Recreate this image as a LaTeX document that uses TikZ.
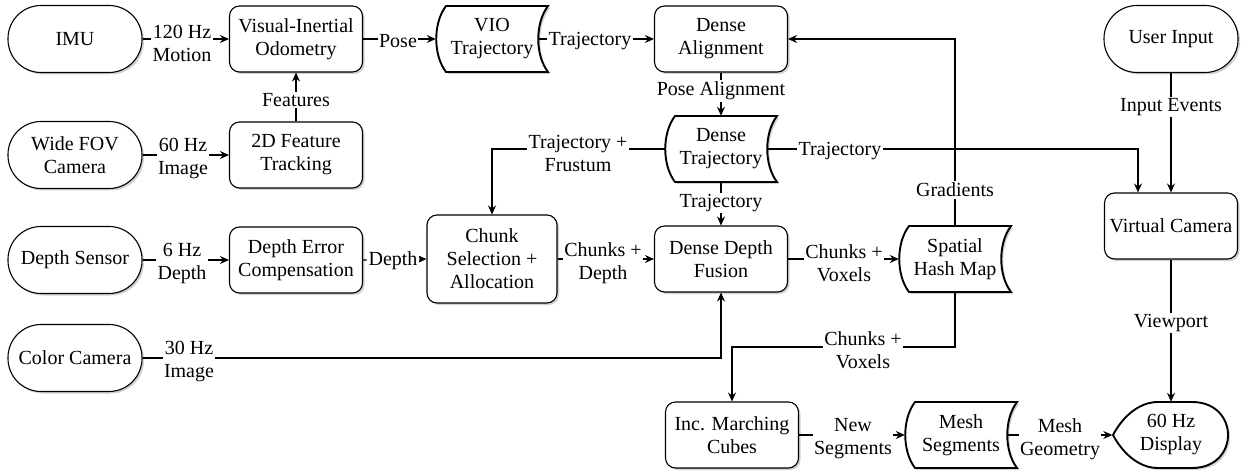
\documentclass[tikz,border=0pt]{standalone}
\usepackage{fontspec}
\setmainfont{Liberation Serif}
\usetikzlibrary{arrows.meta,shadows,calc}
\newcommand\storeshape[2]{%
  \draw[thickline] (#1-46,#2-33) -- (#1+56,#2-33)
    .. controls (#1+43,#2-16) and (#1+43,#2+16) .. (#1+56,#2+33)
    -- (#1-46,#2+33)
    .. controls (#1-59,#2+16) and (#1-59,#2-16) .. (#1-46,#2-33) -- cycle;}
\begin{document}
\begin{tikzpicture}[x=1pt,y=-1pt,
  every node/.style={font=\fontsize{20}{23}\selectfont, align=center, inner sep=0pt},
  shad/.style={drop shadow={shadow xshift=2pt,shadow yshift=-2pt,opacity=0.18,fill=black}},
  term/.style={draw, line width=1.1pt, rounded corners=33pt, minimum width=134pt, minimum height=67pt, fill=white, shad},
  proc/.style={draw, line width=1.1pt, rounded corners=10pt, minimum width=133pt, minimum height=66pt, fill=white, shad},
  store/.style={minimum width=112pt, minimum height=66pt},
  thickline/.style={line width=1.9pt, fill=white, shad},
  conn/.style={line width=1.1pt, -{Stealth[length=9pt,width=8pt,inset=3pt]}},
  lab/.style={fill=white, inner sep=1.5pt},
]
\useasboundingbox[fill=white] (0,0) rectangle (1242,473);
% terminals
\node[term] (imu) at (75,39) {IMU};
\node[term] (wfov) at (75,155) {Wide FOV\\Camera};
\node[term] (dsens) at (75,260) {Depth Sensor};
\node[term] (ccam) at (75,358) {Color Camera};
\node[term] (uin) at (1171,39) {User Input};
% processes
\node[proc] (vio) at (296,39) {Visual-Inertial\\Odometry};
\node[proc] (ft) at (296,155) {2D Feature\\Tracking};
\node[proc] (dec) at (296,260) {Depth Error\\Compensation};
\node[proc] (da) at (721,39) {Dense\\Alignment};
\node[proc, minimum width=130pt, minimum height=88pt] (cs) at (492,259) {Chunk\\Selection +\\Allocation};
\node[proc] (ddf) at (721,259) {Dense Depth\\Fusion};
\node[proc] (vc) at (1171,226) {Virtual Camera};
\node[proc] (imc) at (732,435) {Inc. Marching\\Cubes};
% data stores
\storeshape{492}{39}
\node[store] (viot) at (492,39) {VIO\\Trajectory};
\storeshape{721}{149}
\node[store] (dt) at (721,149) {Dense\\Trajectory};
\storeshape{955}{259}
\node[store] (shm) at (955,259) {Spatial\\Hash Map};
\storeshape{961}{435}
\node[store] (ms) at (961,435) {Mesh\\Segments};
% display
\draw[thickline] (1113,435) .. controls (1122,418) and (1138,402) .. (1158,402) -- (1192,402)
  .. controls (1240,402) and (1240,468) .. (1192,468) -- (1158,468)
  .. controls (1138,468) and (1122,452) .. (1113,435) -- cycle;
\node[store, minimum width=117pt] (disp) at (1171,435) {60 Hz\\Display};
% connectors
\draw[conn] (imu.east) -- (vio.west);
\draw[conn] (wfov.east) -- (ft.west);
\draw[conn] (ft.north) -- (vio.south);
\draw[conn] (vio.east) -- (viot.west);
\draw[conn] ([xshift=-10pt]viot.east) -- (da.west);
\draw[conn] (da.south) -- (dt.north);
\draw[conn] (dt.west) -| (cs.north);
\draw[conn] ([xshift=-10pt]dt.east) -| ([xshift=-33pt]vc.north);
\draw[conn] (dt.south) -- (ddf.north);
\draw[conn] (dsens.east) -- (dec.west);
\draw[conn] (dec.east) -- (cs.west);
\draw[conn] (cs.east) -- (ddf.west);
\draw[conn] (ccam.east) -| (ddf.south);
\draw[conn] (ddf.east) -- (shm.west);
\draw[conn] (shm.north) |- (da.east);
\coordinate (bend) at (0,347);
\draw[conn] (shm.south) -- (shm.south |- bend) -| (imc.north);
\draw[conn] (uin.south) -- (vc.north);
\draw[conn] (vc.south) -- (disp.north);
\draw[conn] (imc.east) -- (ms.west);
\draw[conn] ([xshift=-10pt]ms.east) -- (disp.west);
% labels
\node[lab] (l1) at (182,43) {120 Hz\\Motion};
\node[lab] (l2) at (183,159) {60 Hz\\Image};
\node[lab] (l3) at (296,100) {Features};
\node[lab] (l4) at (398,41) {Pose};
\node[lab] (l5) at (590,41) {Trajectory};
\node[lab] (l6) at (721,91) {Pose Alignment};
\node[lab] (l7) at (578,153) {Trajectory +\\Frustum};
\node[lab] (l8) at (840,151) {Trajectory};
\node[lab] (l9) at (721,203) {Trajectory};
\node[lab] (l10) at (182,264) {6 Hz\\Depth};
\node[lab] (l11) at (393,261) {Depth};
\node[lab] (l12) at (603,263) {Chunks +\\Depth};
\node[lab] (l13) at (189,362) {30 Hz\\Image};
\node[lab] (l14) at (844,263) {Chunks +\\Voxels};
\node[lab] (l15) at (955,190) {Gradients};
\node[lab] (l16) at (863,350) {Chunks +\\Voxels};
\node[lab] (l17) at (1171,107) {Input Events};
\node[lab] (l18) at (1171,323) {Viewport};
\node[lab] (l19) at (853,439) {New\\Segments};
\node[lab] (l20) at (1060,439) {Mesh\\Geometry};
\end{tikzpicture}
\end{document}
